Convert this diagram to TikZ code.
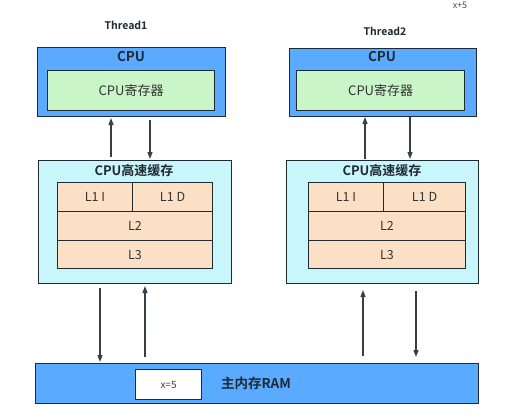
\documentclass[tikz,border=0pt]{standalone}
\usepackage{fontspec}
\setmainfont{Noto Sans CJK SC}[BoldFont={* Bold}]
\usetikzlibrary{arrows.meta}
\definecolor{cpublue}{HTML}{5AABFF}
\definecolor{reggreen}{HTML}{C9F5C9}
\definecolor{cachecyan}{HTML}{C9F6FA}
\definecolor{peach}{HTML}{FCE0C6}
\definecolor{edge}{HTML}{1F2A33}
\tikzset{
  box/.style={draw=edge, line width=1.3pt, inner sep=0pt, anchor=north west},
  cell/.style={draw=edge, line width=1.1pt, fill=peach, inner sep=0pt, anchor=north west, font=\fontsize{12.5}{14}\selectfont, text=black!80},
  arr/.style={draw=edge!90, line width=1.2pt, -{Triangle[length=7pt,width=5pt]}},
  ttl/.style={font=\bfseries\fontsize{13.5}{15}\selectfont, text=edge},
  sub/.style={font=\bfseries\fontsize{13}{15}\selectfont, text=edge},
}
\begin{document}
\begin{tikzpicture}[x=1pt,y=-1pt]
\useasboundingbox (0,0) rectangle (514,420);
\fill[white] (0,0) rectangle (514,420);
% top-right fragment
\node[font=\fontsize{9}{10}\selectfont, text=black!70, inner sep=0pt] (xp) at (460,5) {x+5};
% Thread labels
\node[font=\bfseries\fontsize{10.5}{12}\selectfont, text=edge] (t1) at (126,25) {Thread1};
\node[font=\bfseries\fontsize{10.5}{12}\selectfont, text=edge] (t2) at (385,31) {Thread2};
% CPU boxes
\node[box, fill=cpublue, minimum width=188pt, minimum height=69pt] (cpu1) at (37,47) {};
\node[ttl] (cpu1t) at (131,57) {CPU};
\node[box, fill=reggreen, minimum width=167pt, minimum height=40pt, font=\fontsize{13}{15}\selectfont, text=black!80] (reg1) at (47,70) {CPU寄存器};
\node[box, fill=cpublue, minimum width=187pt, minimum height=68pt] (cpu2) at (289,48) {};
\node[ttl] (cpu2t) at (382,57) {CPU};
\node[box, fill=reggreen, minimum width=168pt, minimum height=40pt, font=\fontsize{13}{15}\selectfont, text=black!80] (reg2) at (296,70) {CPU寄存器};
% Cache boxes
\node[box, fill=cachecyan, minimum width=193pt, minimum height=123pt] (c1) at (38,160) {};
\node[sub] (c1t) at (134,171) {CPU高速缓存};
\node[cell, minimum width=75pt, minimum height=29pt] (l1i1) at (57,182) {L1 I};
\node[cell, minimum width=80pt, minimum height=29pt] (l1d1) at (132,182) {L1 D};
\node[cell, minimum width=155pt, minimum height=29pt] (l21) at (57,211) {L2};
\node[cell, minimum width=155pt, minimum height=28pt] (l31) at (57,240) {L3};
\node[box, fill=cachecyan, minimum width=192pt, minimum height=123pt] (c2) at (286,160) {};
\node[sub] (c2t) at (382,171) {CPU高速缓存};
\node[cell, minimum width=75pt, minimum height=29pt] (l1i2) at (308,182) {L1 I};
\node[cell, minimum width=82pt, minimum height=29pt] (l1d2) at (383,182) {L1 D};
\node[cell, minimum width=157pt, minimum height=29pt] (l22) at (308,211) {L2};
\node[cell, minimum width=157pt, minimum height=28pt] (l32) at (308,240) {L3};
% RAM
\node[box, fill=cpublue, minimum width=443pt, minimum height=40pt] (ram) at (35,363) {};
\node[box, fill=white, line width=1.1pt, minimum width=66pt, minimum height=30pt, font=\fontsize{10}{12}\selectfont, text=black!75] (xv) at (135,369) {x=5};
\node[font=\bfseries\fontsize{13.5}{15}\selectfont, text=edge] (ramt) at (256,383) {主内存RAM};
% coordinates for arrows
\coordinate (a1s) at (111,157); \coordinate (a1e) at (111,118);
\coordinate (a2s) at (150,120); \coordinate (a2e) at (150,159);
\coordinate (a3s) at (365,159); \coordinate (a3e) at (365,117);
\coordinate (a4s) at (410,117); \coordinate (a4e) at (410,159);
\coordinate (b1s) at (100,288); \coordinate (b1e) at (100,362);
\coordinate (b2s) at (145,357); \coordinate (b2e) at (145,286);
\coordinate (b3s) at (363,356); \coordinate (b3e) at (363,290);
\coordinate (b4s) at (416,291); \coordinate (b4e) at (416,357);
\draw[arr] (a1s) -- (a1e);
\draw[arr] (a2s) -- (a2e);
\draw[arr] (a3s) -- (a3e);
\draw[arr] (a4s) -- (a4e);
\draw[arr] (b1s) -- (b1e);
\draw[arr] (b2s) -- (b2e);
\draw[arr] (b3s) -- (b3e);
\draw[arr] (b4s) -- (b4e);
\end{tikzpicture}
\end{document}
